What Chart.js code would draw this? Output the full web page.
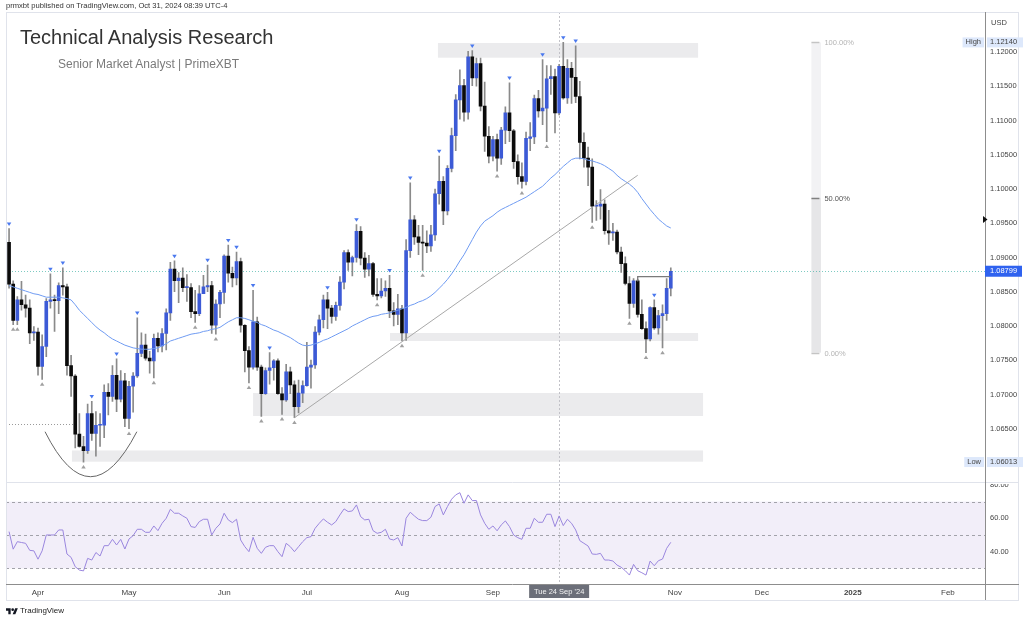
<!DOCTYPE html>
<html><head><meta charset="utf-8">
<script src="https://cdn.jsdelivr.net/npm/chart.js@4.4.1/dist/chart.umd.min.js"></script>
<style>
html,body{margin:0;padding:0;background:#fff;width:1024px;height:622px;overflow:hidden;font-family:"Liberation Sans",Arial,sans-serif;}
#wrap{position:relative;width:1024px;height:622px;}
#c{position:absolute;left:0;top:0;}
.t{position:absolute;white-space:nowrap;}
</style></head><body>
<div id="wrap">
<canvas id="c" width="1024" height="622"></canvas>
<div class="t" style="left:6px;top:1px;font-size:7.6px;line-height:10px;color:#333">prmxbt published on TradingView.com, Oct 31, 2024 08:39 UTC-4</div>
<div class="t" style="left:20px;top:25px;font-size:20px;line-height:24px;color:#333">Technical Analysis Research</div>
<div class="t" style="left:58px;top:57px;font-size:12px;line-height:14px;color:#7a7a7a">Senior Market Analyst | PrimeXBT</div>
<svg style="position:absolute;left:6px;top:607px" width="12" height="8" viewBox="0 0 36 24"><path fill="#131722" d="M14 22H7V11H0V4h14v18zM28 22h-8l7.5-18h8L28 22z"/><circle fill="#131722" cx="20" cy="8" r="4"/></svg>
<div class="t" style="left:20px;top:605px;font-size:8px;line-height:12px;color:#222">TradingView</div>
</div>
<script>
// ---------- DATA ----------
const sessionDays = [
  ['Mar', [21,22,25,26,27,28,29]],
  ['Apr', [1,2,3,4,5,8,9,10,11,12,15,16,17,18,19,22,23,24,25,26,29,30]],
  ['May', [1,2,3,6,7,8,9,10,13,14,15,16,17,20,21,22,23,24,27,28,29,30,31]],
  ['Jun', [3,4,5,6,7,10,11,12,13,14,17,18,19,20,21,24,25,26,27,28]],
  ['Jul', [1,2,3,4,5,8,9,10,11,12,15,16,17,18,19,22,23,24,25,26,29,30,31]],
  ['Aug', [1,2,5,6,7,8,9,12,13,14,15,16,19,20,21,22,23,26,27,28,29,30]],
  ['Sep', [2,3,4,5,6,9,10,11,12,13,16,17,18,19,20,23,24,25,26,27,30]],
  ['Oct', [1,2,3,4,7,8,9,10,11,14,15,16,17,18,21,22,23,24,25,28,29,30,31]]
];
const dates = sessionDays.flatMap(([m, ds]) => ds.map(d => m + ' ' + d + ' 2024'));

const open = [
 1.0922,1.0861,1.0808,1.0838,1.0831,1.0826,1.0790,1.0791,1.0741,1.0770,
 1.0836,1.0838,1.0837,1.0859,1.0857,1.0742,1.0727,1.0642,1.0624,1.0618,
 1.0672,1.0643,1.0655,1.0655,1.0703,1.0697,1.0728,1.0693,1.0720,1.0665,
 1.0712,1.0727,1.0760,1.0772,1.0753,1.0749,1.0782,1.0771,1.0789,1.0819,
 1.0883,1.0866,1.0870,1.0856,1.0856,1.0821,1.0818,1.0847,1.0857,1.0859,
 1.0801,1.0832,1.0849,1.0902,1.0877,1.0870,1.0894,1.0801,1.0764,1.0740,
 1.0806,1.0740,1.0701,1.0735,1.0739,1.0749,1.0701,1.0692,1.0733,1.0714,
 1.0682,1.0702,1.0713,1.0740,1.0743,1.0791,1.0809,1.0838,1.0826,1.0814,
 1.0830,1.0864,1.0907,1.0893,1.0900,1.0938,1.0899,1.0883,1.0891,1.0846,
 1.0844,1.0851,1.0855,1.0822,1.0817,1.0825,1.0790,1.0910,1.0955,1.0930,
 1.0922,1.0921,1.0917,1.0933,1.0993,1.1011,1.0968,1.1030,1.1078,1.1130,
 1.1151,1.1112,1.1193,1.1162,1.1183,1.1121,1.1077,1.1048,1.1072,1.1045,
 1.1086,1.1111,1.1085,1.1040,1.1018,1.1011,1.1074,1.1076,1.1132,1.1114,
 1.1118,1.1161,1.1164,1.1111,1.1179,1.1133,1.1176,1.1163,1.1135,1.1068,
 1.1045,1.1032,1.0975,1.0975,1.0978,1.0939,1.0936,1.0937,1.0908,1.0891,
 1.0862,1.0833,1.0866,1.0817,1.0796,1.0781,1.0827,1.0797,1.0815,1.0818,
 1.0855];
const high = [
 1.0942,1.0866,1.0843,1.0865,1.0845,1.0838,1.0799,1.0797,1.0787,1.0840,
 1.0876,1.0845,1.0863,1.0885,1.0861,1.0757,1.0729,1.0672,1.0639,1.0686,
 1.0690,1.0675,1.0672,1.0714,1.0716,1.0742,1.0752,1.0735,1.0731,1.0719,
 1.0732,1.0812,1.0790,1.0788,1.0763,1.0788,1.0790,1.0796,1.0825,1.0893,
 1.0895,1.0878,1.0885,1.0875,1.0862,1.0852,1.0859,1.0874,1.0889,1.0865,
 1.0838,1.0852,1.0904,1.0918,1.0886,1.0908,1.0899,1.0802,1.0770,1.0852,
 1.0813,1.0743,1.0739,1.0761,1.0751,1.0752,1.0710,1.0744,1.0740,1.0720,
 1.0721,1.0720,1.0776,1.0750,1.0799,1.0816,1.0845,1.0849,1.0830,1.0835,
 1.0872,1.0910,1.0911,1.0902,1.0948,1.0945,1.0907,1.0903,1.0893,1.0869,
 1.0869,1.0866,1.0874,1.0834,1.0846,1.0830,1.0926,1.1009,1.0961,1.0947,
 1.0947,1.0939,1.0947,1.1000,1.1048,1.1018,1.1034,1.1089,1.1138,1.1174,
 1.1160,1.1201,1.1202,1.1191,1.1191,1.1156,1.1091,1.1077,1.1080,1.1090,
 1.1120,1.1155,1.1087,1.1050,1.1038,1.1083,1.1097,1.1137,1.1144,1.1189,
 1.1180,1.1180,1.1175,1.1182,1.1214,1.1189,1.1185,1.1209,1.1157,1.1082,
 1.1061,1.1044,1.0983,1.0999,1.0984,1.0969,1.0950,1.0940,1.0915,1.0901,
 1.0872,1.0869,1.0868,1.0838,1.0806,1.0828,1.0838,1.0823,1.0831,1.0869,
 1.0885];
const low = [
 1.0855,1.0802,1.0802,1.0823,1.0813,1.0774,1.0779,1.0728,1.0722,1.0755,
 1.0826,1.0792,1.0818,1.0845,1.0728,1.0697,1.0622,1.0623,1.0601,1.0614,
 1.0633,1.0610,1.0624,1.0637,1.0670,1.0690,1.0675,1.0689,1.0653,1.0650,
 1.0674,1.0725,1.0755,1.0750,1.0731,1.0724,1.0762,1.0762,1.0765,1.0808,
 1.0850,1.0834,1.0850,1.0836,1.0812,1.0805,1.0815,1.0847,1.0850,1.0789,
 1.0788,1.0812,1.0833,1.0864,1.0857,1.0860,1.0791,1.0733,1.0717,1.0737,
 1.0735,1.0668,1.0700,1.0715,1.0721,1.0700,1.0671,1.0690,1.0701,1.0666,
 1.0673,1.0688,1.0712,1.0709,1.0738,1.0787,1.0797,1.0796,1.0804,1.0808,
 1.0823,1.0854,1.0881,1.0873,1.0893,1.0889,1.0871,1.0873,1.0843,1.0838,
 1.0841,1.0843,1.0812,1.0800,1.0802,1.0778,1.0779,1.0900,1.0919,1.0904,
 1.0881,1.0907,1.0909,1.0925,1.0978,1.0948,1.0962,1.1025,1.1056,1.1102,
 1.1099,1.1102,1.1151,1.1150,1.1114,1.1055,1.1038,1.1041,1.1026,1.1036,
 1.1066,1.1069,1.1030,1.1007,1.1001,1.1006,1.1056,1.1066,1.1105,1.1094,
 1.1069,1.1138,1.1082,1.1108,1.1131,1.1125,1.1125,1.1126,1.1044,1.1032,
 1.1005,1.0951,1.0954,1.0956,1.0934,1.0919,1.0925,1.0905,1.0878,1.0860,
 1.0811,1.0827,1.0813,1.0795,1.0761,1.0778,1.0795,1.0788,1.0768,1.0808,
 1.0844];
const close = [
 1.0861,1.0808,1.0838,1.0831,1.0826,1.0790,1.0791,1.0741,1.0770,1.0836,
 1.0838,1.0837,1.0859,1.0857,1.0742,1.0727,1.0642,1.0624,1.0618,1.0672,
 1.0643,1.0655,1.0655,1.0703,1.0697,1.0728,1.0693,1.0720,1.0665,1.0712,
 1.0727,1.0760,1.0772,1.0753,1.0749,1.0782,1.0771,1.0789,1.0819,1.0883,
 1.0866,1.0870,1.0856,1.0856,1.0821,1.0818,1.0847,1.0857,1.0859,1.0801,
 1.0832,1.0849,1.0902,1.0877,1.0870,1.0894,1.0801,1.0764,1.0740,1.0806,
 1.0740,1.0701,1.0735,1.0739,1.0749,1.0701,1.0692,1.0733,1.0714,1.0682,
 1.0702,1.0713,1.0740,1.0743,1.0791,1.0809,1.0838,1.0826,1.0814,1.0830,
 1.0864,1.0907,1.0893,1.0900,1.0938,1.0899,1.0883,1.0891,1.0846,1.0844,
 1.0851,1.0855,1.0822,1.0817,1.0825,1.0790,1.0910,1.0955,1.0930,1.0922,
 1.0921,1.0917,1.0933,1.0993,1.1011,1.0968,1.1030,1.1078,1.1130,1.1151,
 1.1112,1.1193,1.1162,1.1183,1.1121,1.1077,1.1048,1.1072,1.1045,1.1086,
 1.1111,1.1085,1.1040,1.1018,1.1011,1.1074,1.1076,1.1132,1.1114,1.1118,
 1.1161,1.1164,1.1111,1.1179,1.1133,1.1176,1.1163,1.1135,1.1068,1.1045,
 1.1032,1.0975,1.0975,1.0978,1.0939,1.0936,1.0937,1.0908,1.0891,1.0862,
 1.0833,1.0866,1.0817,1.0796,1.0781,1.0827,1.0797,1.0815,1.0818,1.0855,
 1.08799];
// moving average (blue line)
const movingAvg = [
 1.0859,1.0857,1.0855,1.0853,1.0851,1.0849,1.0847,1.0846,1.0844,1.0842,
 1.0842,1.0842,1.0842,1.0841,1.0840,1.0838,1.0831,1.0823,1.0817,1.0811,
 1.0805,1.0799,1.0794,1.0790,1.0785,1.0781,1.0778,1.0775,1.0772,1.0770,
 1.0768,1.0767,1.0766,1.0766,1.0766,1.0767,1.0768,1.0771,1.0774,1.0778,
 1.0780,1.0782,1.0784,1.0786,1.0788,1.0789,1.0790,1.0792,1.0793,1.0795,
 1.0796,1.0798,1.0802,1.0806,1.0809,1.0812,1.0812,1.0811,1.0809,1.0807,
 1.0805,1.0802,1.0800,1.0797,1.0794,1.0792,1.0789,1.0786,1.0783,1.0779,
 1.0775,1.0772,1.0771,1.0772,1.0774,1.0776,1.0779,1.0781,1.0784,1.0787,
 1.0790,1.0793,1.0796,1.0800,1.0803,1.0806,1.0809,1.0812,1.0814,1.0815,
 1.0817,1.0818,1.0819,1.0821,1.0823,1.0825,1.0827,1.0830,1.0832,1.0835,
 1.0837,1.0840,1.0844,1.0849,1.0855,1.0861,1.0868,1.0876,1.0885,1.0895,
 1.0904,1.0915,1.0926,1.0937,1.0946,1.0953,1.0957,1.0961,1.0966,1.0970,
 1.0973,1.0976,1.0979,1.0982,1.0985,1.0988,1.0992,1.0996,1.1000,1.1004,
 1.1010,1.1016,1.1021,1.1027,1.1033,1.1038,1.1043,1.1045,1.1045,1.1044,
 1.1042,1.1041,1.1039,1.1037,1.1034,1.1030,1.1026,1.1020,1.1015,1.1011,
 1.1007,1.1002,1.0995,1.0986,1.0978,1.0970,1.0963,1.0956,1.0951,1.0946,
 1.0943];
const rsi = [
 52,41.5,46,45.5,45,40.8,40.5,35.5,40.5,50,
 50,50,53,53,38.6,36.6,31,29,28.5,36,
 35,39.5,37.4,43.6,43.6,47.4,44,47.4,41.6,47.6,
 49.6,53.4,53.4,51.6,51.6,55.4,52.6,57,60,65.4,
 63,63,61.4,60,55,54.5,58,59.4,59.4,50,
 54,56.6,63,59,57.4,59.4,47,43,40,48.6,
 42,39,42.6,43.6,43.6,40,37,45,43,40,
 43,46,48.4,49,54,57,59.6,57.6,56,58,
 62,65.6,64,64.4,68,61,59,59.4,52.6,51,
 51.6,53.4,47.6,47,48.4,43.4,60,63.6,61.4,59.4,
 58.6,58.6,60.6,67,68.6,62,67,71.4,74,75.3,
 69,74,70.6,70.6,62,57,53.4,55.4,52.5,56,
 58.4,55,50,48.4,47.4,54,54,60,57.6,57.6,
 62.4,62.4,55,61.4,55.6,59.4,57,53,46.6,45,
 43.4,38.6,38.4,39,35,35,34.4,32,30.7,28.6,
 26,32.4,28.6,27.4,26,34.4,31.6,34.6,35.6,42,
 45.6];

// williams fractal bars
const fractalHigh = [0,10,13,20,26,31,40,48,53,55,59,63,77,84,92,97,104,112,121,129,134,137,156];
const fractalLow  = [1,2,8,18,29,35,45,50,58,61,66,69,89,95,100,118,124,130,141,150,154,158];

// axis ticks
const monthTickIdx    = [7, 29, 52, 72, 95, 117, 161, 182, 204, 227];
const monthTickLabels = ['Apr','May','Jun','Jul','Aug','Sep','Nov','Dec','2025','Feb'];
const priceTicks = [1.065,1.07,1.075,1.08,1.085,1.09,1.095,1.10,1.105,1.11,1.115,1.12];
const rsiTicks = [40, 60];
const rsiLevels = [70, 50, 30];

// drawings (bar index / price units)
const zoneFrom   = [103.7, 92.1, 59.0, 15.2];
const zoneTo     = [166.6, 166.6, 167.8, 167.8];
const zoneTop    = [1.12131, 1.07897, 1.07021, 1.06182];
const zoneBottom = [1.11917, 1.07780, 1.06685, 1.06018];
const fibPrices = [1.1214, 1.09875, 1.0761];
const fibLabels = ['100.00%', '50.00%', '0.00%'];
const fibBar = [194, 196.3];
const trendIdx = [69, 152];
const trendPrice = [1.0666, 1.1020];
const arcIdx = [8.7, 19.6, 30.9];
const arcPrice = [1.06456, 1.05142, 1.06456];
const leftRay = [-0.74, 15.5, 1.06568];
const boxLine = [152, 160, 1.0872, 1.0865];
const crossIdx = 133;
const crossLabel = "Tue 24 Sep '24";
const lastPrice = 1.08799, highPrice = 1.12140, lowPrice = 1.06013;
const axisMarkPrice = 1.09555;

// ---------- CHART ----------
const FONT = '"Liberation Sans", Arial, sans-serif';
const UP = '#3c5ad6', DOWN = '#0b0b0b', WICK = '#8a8a8a';

function tri(ctx, x, y, w, h, down) {
  ctx.beginPath();
  if (down) { ctx.moveTo(x - w/2, y - h/2); ctx.lineTo(x + w/2, y - h/2); ctx.lineTo(x, y + h/2); }
  else { ctx.moveTo(x - w/2, y + h/2); ctx.lineTo(x + w/2, y + h/2); ctx.lineTo(x, y - h/2); }
  ctx.closePath(); ctx.fill();
}

const decor = {
  id: 'decor',
  beforeDatasetsDraw(chart) {
    const {ctx, chartArea: ca, scales} = chart;
    const X = v => scales.x.getPixelForValue(v);
    const Y = v => scales.y.getPixelForValue(v);
    const R = v => scales.rsi.getPixelForValue(v);
    ctx.save();
    // RSI band
    ctx.fillStyle = 'rgba(126,87,194,0.1)';
    ctx.fillRect(ca.left, R(70), ca.right - ca.left, R(30) - R(70));
    ctx.strokeStyle = '#a2a2aa'; ctx.lineWidth = 1; ctx.setLineDash([3, 3]);
    rsiLevels.forEach(v => { const py = Math.round(R(v)) + 0.5; ctx.beginPath(); ctx.moveTo(ca.left, py); ctx.lineTo(ca.right, py); ctx.stroke(); });
    ctx.setLineDash([]);
    // zones
    ctx.fillStyle = '#ebebed';
    zoneFrom.forEach((f, k) => {
      const x0 = X(f), x1 = X(zoneTo[k]), y0 = Y(zoneTop[k]), y1 = Y(zoneBottom[k]);
      ctx.fillRect(x0, y0, x1 - x0, y1 - y0);
    });
    // fib bar
    const fx0 = X(fibBar[0]), fx1 = X(fibBar[1]);
    ctx.fillStyle = '#f2f2f4';
    ctx.fillRect(fx0, Y(fibPrices[0]), fx1 - fx0, Y(fibPrices[1]) - Y(fibPrices[0]));
    ctx.fillStyle = '#e6e6e8';
    ctx.fillRect(fx0, Y(fibPrices[1]), fx1 - fx0, Y(fibPrices[2]) - Y(fibPrices[1]));
    const fibTickCol = ['#c4c4c4', '#808080', '#c4c4c4'];
    const fibTextCol = ['#b4b4b4', '#555', '#b4b4b4'];
    ctx.font = '7.5px ' + FONT; ctx.textBaseline = 'middle'; ctx.textAlign = 'left';
    fibPrices.forEach((p, k) => {
      const py = Math.round(Y(p)) + 0.5;
      ctx.strokeStyle = fibTickCol[k]; ctx.lineWidth = 1.5;
      ctx.beginPath(); ctx.moveTo(fx0, py); ctx.lineTo(fx0 + 8, py); ctx.stroke();
      ctx.fillStyle = fibTextCol[k];
      ctx.fillText(fibLabels[k], fx1 + 3.5, py);
    });
    // left dotted ray
    ctx.strokeStyle = '#9a9a9a'; ctx.lineWidth = 1; ctx.setLineDash([1, 2]);
    let py = Math.round(Y(leftRay[2])) + 0.5;
    ctx.beginPath(); ctx.moveTo(X(leftRay[0]), py); ctx.lineTo(X(leftRay[1]), py); ctx.stroke();
    // last price line
    ctx.strokeStyle = 'rgba(38,166,154,0.6)';
    py = Math.round(Y(lastPrice)) + 0.5;
    ctx.beginPath(); ctx.moveTo(ca.left, py); ctx.lineTo(ca.right, py); ctx.stroke();
    // crosshair
    ctx.strokeStyle = '#c2c2c8'; ctx.setLineDash([2, 2]);
    const cx = Math.round(X(crossIdx)) + 0.5;
    ctx.beginPath(); ctx.moveTo(cx, ca.top); ctx.lineTo(cx, ca.bottom); ctx.stroke();
    ctx.setLineDash([]);
    ctx.restore();
  },
  afterDatasetsDraw(chart) {
    const {ctx, scales} = chart;
    const X = v => scales.x.getPixelForValue(v);
    const Y = v => scales.y.getPixelForValue(v);
    ctx.save();
    // trendline
    ctx.strokeStyle = '#a8a8a8'; ctx.lineWidth = 1;
    ctx.beginPath(); ctx.moveTo(X(trendIdx[0]), Y(trendPrice[0])); ctx.lineTo(X(trendIdx[1]), Y(trendPrice[1])); ctx.stroke();
    // arc
    ctx.strokeStyle = '#666'; ctx.lineWidth = 1;
    ctx.beginPath(); ctx.moveTo(X(arcIdx[0]), Y(arcPrice[0]));
    ctx.quadraticCurveTo(X(arcIdx[1]), Y(arcPrice[1]), X(arcIdx[2]), Y(arcPrice[2])); ctx.stroke();
    // range line
    ctx.strokeStyle = '#7a7a7a'; ctx.lineWidth = 1.3;
    ctx.beginPath(); ctx.moveTo(X(boxLine[0]), Y(boxLine[3])); ctx.lineTo(X(boxLine[0]), Y(boxLine[2])); ctx.lineTo(X(boxLine[1]), Y(boxLine[2])); ctx.stroke();
    // fractals
    ctx.fillStyle = '#4a78ee';
    fractalHigh.forEach(i => tri(ctx, X(i), Y(high[i]) - 4.5, 4.5, 3.5, true));
    ctx.fillStyle = '#a0a0a0';
    fractalLow.forEach(i => tri(ctx, X(i), Y(low[i]) + 4.5, 4.5, 3.5, false));
    ctx.restore();
  },
  afterDraw(chart) {
    const {ctx, chartArea: ca, scales} = chart;
    const Y = v => scales.y.getPixelForValue(v);
    const R = v => scales.rsi.getPixelForValue(v);
    const X = v => scales.x.getPixelForValue(v);
    ctx.save();
    // frame
    ctx.strokeStyle = '#e0e3eb'; ctx.lineWidth = 1;
    ctx.strokeRect(6.5, 12.5, 1012, 588);
    const sep = Math.round(scales.y.bottom) + 0.5;
    ctx.beginPath(); ctx.moveTo(6, sep); ctx.lineTo(1019, sep); ctx.stroke();
    // axis lines
    ctx.strokeStyle = '#8d8d8d';
    ctx.beginPath(); ctx.moveTo(Math.round(ca.right) + 0.5, 12); ctx.lineTo(Math.round(ca.right) + 0.5, 600); ctx.stroke();
    ctx.beginPath(); ctx.moveTo(6, Math.round(ca.bottom) + 0.5); ctx.lineTo(1019, Math.round(ca.bottom) + 0.5); ctx.stroke();
    ctx.font = '7.5px ' + FONT; ctx.textBaseline = 'middle'; ctx.textAlign = 'left';
    // USD
    ctx.fillStyle = '#444'; ctx.fillText('USD', 991, 22.5);
    // High / Low rows
    [[highPrice, 'High'], [lowPrice, 'Low']].forEach(([p, t]) => {
      const yy = Y(p);
      ctx.fillStyle = '#dde8fb';
      const tw = ctx.measureText(t).width;
      ctx.fillRect(ca.right - tw - 7, yy - 5, tw + 6, 10);
      ctx.fillRect(ca.right + 2, yy - 5, 36, 10);
      ctx.fillStyle = '#444';
      ctx.fillText(t, ca.right - tw - 4, yy);
      ctx.fillText(p.toFixed(5), 990, yy);
    });
    // last price tag
    const ly = Y(lastPrice);
    ctx.fillStyle = '#2f62ef';
    ctx.fillRect(ca.right, ly - 5.5, 37, 11);
    ctx.fillStyle = '#fff'; ctx.fillText(lastPrice.toFixed(5), 990, ly);
    // axis marker triangle
    const my = Y(axisMarkPrice);
    ctx.fillStyle = '#111';
    ctx.beginPath(); ctx.moveTo(ca.right - 2, my - 3.5); ctx.lineTo(ca.right + 2.5, my); ctx.lineTo(ca.right - 2, my + 3.5); ctx.closePath(); ctx.fill();
    // RSI 80 label (clipped by pane top)
    ctx.save();
    ctx.beginPath(); ctx.rect(ca.right + 1, scales.rsi.top + 2.5, 38, 40); ctx.clip();
    ctx.fillStyle = '#444'; ctx.fillText('80.00', 990, R(80));
    ctx.restore();
    // crosshair label
    const cx = X(crossIdx);
    ctx.fillStyle = '#6c6f79';
    ctx.fillRect(cx - 30, ca.bottom + 1, 60, 13);
    ctx.fillStyle = '#f4f4f4'; ctx.textAlign = 'center';
    ctx.fillText(crossLabel, cx, ca.bottom + 8);
    ctx.restore();
  }
};

const idx = dates.map((_, i) => i);
new Chart(document.getElementById('c'), {
  type: 'bar',
  data: {
    datasets: [
      { type: 'line', label: 'MA', data: idx.map(i => ({x: i, y: movingAvg[i]})), yAxisID: 'y',
        borderColor: '#6f9bf2', borderWidth: 1, pointRadius: 0, tension: 0, order: 0 },
      { type: 'bar', label: 'Body', data: idx.map(i => ({x: i, y: [open[i], close[i]]})), yAxisID: 'y',
        backgroundColor: idx.map(i => close[i] >= open[i] ? UP : DOWN), barThickness: 3, minBarLength: 1,
        grouped: false, borderWidth: 0, order: 1 },
      { type: 'bar', label: 'Wick', data: idx.map(i => ({x: i, y: [low[i], high[i]]})), yAxisID: 'y',
        backgroundColor: WICK, barThickness: 1, grouped: false, borderWidth: 0, order: 2 },
      { type: 'line', label: 'RSI', data: idx.map(i => ({x: i, y: rsi[i]})), yAxisID: 'rsi',
        borderColor: '#9a86de', borderWidth: 1, pointRadius: 0, tension: 0, order: 3 }
    ]
  },
  options: {
    responsive: false, animation: false, events: [], devicePixelRatio: 1,
    layout: { padding: { left: 6, right: 6, top: 12, bottom: 0 } },
    plugins: { legend: { display: false }, tooltip: { enabled: false } },
    scales: {
      x: {
        type: 'linear', position: 'bottom', min: -0.74, max: 235.97, offset: false, bounds: 'data',
        grid: { display: false, drawTicks: false }, border: { display: false },
        afterBuildTicks: s => { s.ticks = monthTickIdx.map(v => ({ value: v })); },
        afterFit: s => { s.height = 38; },
        ticks: {
          autoSkip: false, maxRotation: 0, padding: 4, color: '#444',
          font: c => ({ family: FONT, size: 8, weight: (c.tick && c.tick.value === 204) ? 'bold' : 'normal' }),
          callback: v => monthTickLabels[monthTickIdx.indexOf(v)]
        }
      },
      y: {
        type: 'linear', position: 'right', stack: 'pane', stackWeight: 469.5,
        min: 1.05729, max: 1.12584, bounds: 'data',
        grid: { display: false, drawTicks: false }, border: { display: false },
        afterBuildTicks: s => { s.ticks = priceTicks.map(v => ({ value: v })); },
        afterFit: s => { s.width = 33; },
        ticks: { autoSkip: false, padding: 5, color: '#444', font: { family: FONT, size: 7.5 }, callback: v => v.toFixed(5) }
      },
      rsi: {
        axis: 'y', type: 'linear', position: 'right', stack: 'pane', stackWeight: 102.5,
        min: 20.66, max: 82, bounds: 'data',
        grid: { display: false, drawTicks: false }, border: { display: false },
        afterBuildTicks: s => { s.ticks = rsiTicks.map(v => ({ value: v })); },
        afterFit: s => { s.width = 33; },
        ticks: { autoSkip: false, padding: 5, color: '#444', font: { family: FONT, size: 7.5 }, callback: v => v.toFixed(2) }
      }
    }
  },
  plugins: [decor]
});
</script>
</body></html>
